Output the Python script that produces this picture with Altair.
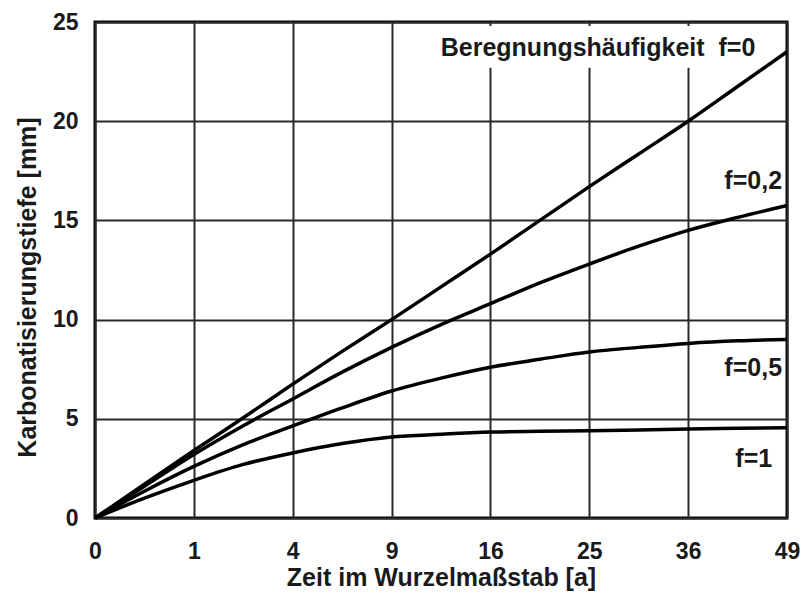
import altair as alt
import pandas as pd

# sqrt(time) positions (axis labels show the square)
x_pos = [0, 0.5, 1, 1.5, 2, 2.5, 3, 3.5, 4, 4.5, 5, 5.5, 6, 6.5, 7]
f0   = [0, 1.7, 3.4, 5.05, 6.75, 8.4, 10.0, 11.65, 13.3, 15.0, 16.7, 18.35, 20.0, 21.75, 23.5]
f02  = [0, 1.6, 3.2, 4.65, 6.0, 7.35, 8.6, 9.75, 10.8, 11.85, 12.8, 13.7, 14.5, 15.15, 15.75]
f05  = [0, 1.35, 2.6, 3.7, 4.64, 5.55, 6.4, 7.05, 7.6, 8.0, 8.37, 8.6, 8.8, 8.93, 9.0]
f1   = [0, 1.0, 1.9, 2.7, 3.28, 3.75, 4.08, 4.22, 4.33, 4.37, 4.4, 4.44, 4.48, 4.52, 4.55]

tick_vals = [0, 1, 2, 3, 4, 5, 6, 7]

label_text = ["Beregnungshäufigkeit\u00a0 f=0", "f=0,2", "f=0,5", "f=1"]
label_x = [6.68, 6.95, 6.95, 6.85]
label_y = [23.7, 17.0, 7.55, 2.95]

rows = []
for name, ys in [("f=0", f0), ("f=0,2", f02), ("f=0,5", f05), ("f=1", f1)]:
    for x, y in zip(x_pos, ys):
        rows.append({"x": x, "y": y, "f": name})
df = pd.DataFrame(rows)
lab = pd.DataFrame({"x": label_x, "y": label_y, "t": label_text})
mask = pd.DataFrame({"x": [3.42], "x2": [6.78], "y": [22.7], "y2": [24.8]})

xs = alt.Scale(domain=[0, 7], nice=False, zero=False)
ys = alt.Scale(domain=[0, 25], nice=False)

font = "Liberation Sans"

lines = alt.Chart(df).mark_line(color="black", strokeWidth=3.5, interpolate="monotone").encode(
    x=alt.X("x:Q", scale=xs, title="Zeit im Wurzelmaßstab [a]",
            axis=alt.Axis(values=tick_vals, labelExpr="datum.value*datum.value",
                          labelFlush=False, labelOverlap=False,
                          labelBaseline="alphabetic", labelPadding=40,
                          titleY=67, titleBaseline="alphabetic")),
    y=alt.Y("y:Q", scale=ys, title="Karbonatisierungstiefe [mm]",
            axis=alt.Axis(values=[0, 5, 10, 15, 20, 25], labelFlush=False, labelOverlap=False,
                          labelPadding=17, titleX=-60, titleY=265, titleBaseline="alphabetic")),
    detail="f:N",
)

rect = alt.Chart(mask).mark_rect(color="white").encode(
    x=alt.X("x:Q", scale=xs), x2="x2:Q", y=alt.Y("y:Q", scale=ys), y2="y2:Q"
)

texts = alt.Chart(lab).mark_text(align="right", baseline="middle", font=font,
                                 fontWeight="bold", fontSize=25, color="#1a1a1a").encode(
    x=alt.X("x:Q", scale=xs), y=alt.Y("y:Q", scale=ys), text="t:N"
)

chart = alt.layer(rect, lines, texts).properties(
    width=692, height=496,
    autosize=alt.AutoSizeParams(type="none"),
    padding={"left": 87, "top": 14, "right": 13, "bottom": 74},
).configure_view(
    stroke="black", strokeWidth=3
).configure_axis(
    grid=True, gridColor="#2a2a2a", gridWidth=2, gridOpacity=1,
    domain=False, ticks=False,
    labelFont=font, labelFontWeight="bold", labelFontSize=23, labelColor="#1a1a1a",
    titleFont=font, titleFontWeight="bold", titleFontSize=25, titleColor="#1a1a1a",
)

chart.save("out.html", embed_options={"renderer": "svg", "actions": False})
